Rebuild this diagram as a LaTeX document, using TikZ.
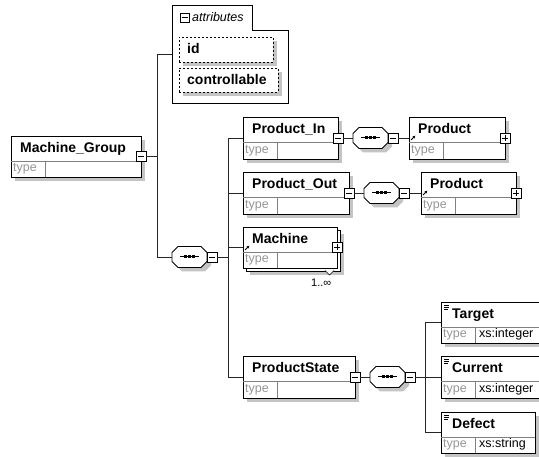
\documentclass[tikz,border=0pt]{standalone}
\usepackage{fontspec}
\setmainfont{Liberation Sans}
\usetikzlibrary{fit,arrows.meta}
\definecolor{shd}{RGB}{196,196,196}
\definecolor{typegray}{RGB}{150,150,150}
\definecolor{divgray}{RGB}{128,128,128}
\tikzset{
  shadowfill/.style={fill=shd, draw=none},
  boxn/.style={draw=black, fill=white, line width=0.9pt, inner sep=0pt},
  divl/.style={draw=divgray, line width=0.7pt},
  ttl/.style={font=\fontsize{14}{16}\selectfont\bfseries, inner sep=0pt},
  typ/.style={font=\fontsize{12.5}{14}\selectfont, text=typegray, inner sep=0pt},
  typv/.style={font=\fontsize{12.5}{14}\selectfont, inner sep=0pt},
  conn/.style={draw=black!85, line width=0.9pt},
  pmbox/.style={draw=black, fill=white, line width=0.7pt, minimum size=10pt, inner sep=0pt},
  dashbox/.style={draw=black, fill=white, line width=0.8pt, dash pattern=on 2pt off 2pt, inner sep=0pt},
}
% shadow rectangle
\newcommand\boxshadow[4]{\fill[shadowfill] (#1+4,#2+4) rectangle (#3+4,#4+4);}
% element box: name, x1, y1, x2, y2, title, type value
\newcommand\elembox[7]{%
  \node[boxn, fit={(#2,#3)(#4,#5)}] (#1) {};
  \draw[divl] (#2,#3+25) -- (#4,#3+25);
  \draw[divl] (#2+34,#3+25) -- (#2+34,#5);
  \node[ttl, anchor=base west] (#1-t) at (#2+9,#3+17) {#6};
  \node[typ, anchor=base west] (#1-ty) at (#2+2,#5-5) {type};
  \node[typv, anchor=base west] (#1-tv) at (#2+38,#5-5) {#7};
}
\newcommand\minusbox[3]{%
  \node[pmbox] (#1) at (#2,#3) {};
  \draw[line width=0.7pt] (#2-3,#3) -- (#2+3,#3);
}
\newcommand\plusbox[3]{%
  \node[pmbox] (#1) at (#2,#3) {};
  \draw[line width=0.7pt] (#2-3,#3) -- (#2+3,#3) (#2,#3-3) -- (#2,#3+3);
}
% sequence compositor: name, x1, cy
\newcommand\seqbox[3]{%
  \fill[shadowfill] (#2+10,#3-6.5) -- (#2+33,#3-6.5) -- (#2+39,#3-0.5) -- (#2+39,#3+8.5)
     -- (#2+33,#3+14.5) -- (#2+10,#3+14.5) -- (#2+4,#3+8.5) -- (#2+4,#3-0.5) -- cycle;
  \draw[boxn] (#2+6,#3-10.5) -- (#2+29,#3-10.5) -- (#2+35,#3-4.5) -- (#2+35,#3+4.5)
     -- (#2+29,#3+10.5) -- (#2+6,#3+10.5) -- (#2,#3+4.5) -- (#2,#3-4.5) -- cycle;
  \node[inner sep=0pt, minimum width=35pt, minimum height=21pt] (#1) at (#2+17.5,#3) {};
  \draw[line width=1pt] (#2+8,#3) -- (#2+27,#3);
  \fill (#2+12.3,#3-1.5) rectangle (#2+14.7,#3+1.5);
  \fill (#2+16.3,#3-1.5) rectangle (#2+18.7,#3+1.5);
  \fill (#2+20.3,#3-1.5) rectangle (#2+22.7,#3+1.5);
  \minusbox{#1-m}{#2+40}{#3}
}
% reference arrow icon at a box's top-left
\newcommand\refarrow[2]{%
  \draw[line width=0.8pt, -{Latex[length=3pt,width=3pt]}] (#1+2,#2+23) -- (#1+6.5,#2+18.5);
}
% element icon (three lines) at a box's top-left
\newcommand\elicon[2]{%
  \draw[line width=0.6pt] (#1+3,#2+3) -- (#1+8,#2+3) (#1+3,#2+5) -- (#1+8,#2+5) (#1+3,#2+7) -- (#1+7,#2+7);
}
% attribute box: name, x1, y1, x2, y2, text
\newcommand\attrbox[6]{%
  \boxshadow{#2}{#3}{#4}{#5}
  \node[dashbox, fit={(#2,#3)(#4,#5)}] (#1) {};
  \node[ttl, anchor=base west] (#1-t) at (#2+8,#3+17) {#6};
}
\begin{document}
\begin{tikzpicture}[x=1pt,y=-1pt]
\useasboundingbox (0,0) rectangle (539,457);

% ---------- Machine_Group ----------
\boxshadow{11}{136}{141}{177}
\elembox{mg}{11}{136}{141}{177}{Machine\_Group}{}
\minusbox{mg-m}{141}{156.5}

% ---------- attributes ----------
\draw[line width=0.9pt, fill=white] (172,5) -- (252,5) -- (252,30) -- (288,30) -- (288,103) -- (172,103) -- cycle;
\node[inner sep=0pt, fit={(172,5)(288,103)}] (attr) {};
\node[pmbox, minimum size=9pt, line width=0.6pt] (attr-m) at (184.5,17.5) {};
\draw[line width=0.6pt] (181.5,17.5) -- (187.5,17.5);
\node[font=\fontsize{12.5}{14}\selectfont\itshape, anchor=base west, inner sep=0pt] (attr-t) at (192,22) {attributes};
\attrbox{aid}{179}{37}{273}{62}{id}
\attrbox{actl}{179}{68}{278}{92}{controllable}

% ---------- main sequence ----------
\seqbox{s1}{172}{257}

% ---------- Product_In ----------
\boxshadow{243}{117}{338}{159}
\elembox{pin}{243}{117}{338}{159}{Product\_In}{}
\minusbox{pin-m}{338}{138}
\seqbox{s2}{353}{138}
\boxshadow{409}{117}{505}{159}
\elembox{prod1}{409}{117}{505}{159}{Product}{}
\refarrow{409}{117}
\plusbox{prod1-p}{505}{138}

% ---------- Product_Out ----------
\boxshadow{243}{172}{349}{214}
\elembox{pout}{243}{172}{349}{214}{Product\_Out}{}
\minusbox{pout-m}{349}{193}
\seqbox{s3}{364}{193}
\boxshadow{421}{172}{516}{214}
\elembox{prod2}{421}{172}{516}{214}{Product}{}
\refarrow{421}{172}
\plusbox{prod2-p}{516}{193}

% ---------- Machine (1..inf) ----------
\boxshadow{246}{230}{340}{271}
\node[boxn, fit={(246,230)(340,271)}] (mach-back) {};
\elembox{mach}{243}{227}{337}{268}{Machine}{}
\refarrow{243}{227}
\plusbox{mach-p}{337}{247.5}
\draw[line width=0.7pt, fill=white] (325,270.5) -- (329.5,275) -- (334,270.5);
\node[font=\fontsize{11}{12}\selectfont, anchor=base west, inner sep=0pt] (mult) at (311,287) {1..∞};

% ---------- ProductState ----------
\boxshadow{243}{356}{355}{398}
\elembox{pst}{243}{356}{355}{398}{ProductState}{}
\minusbox{pst-m}{355}{377}
\seqbox{s4}{370}{377}

\boxshadow{441}{302}{570}{343}
\elembox{tgt}{441}{302}{570}{343}{\hspace*{2pt}Target}{xs:integer}
\elicon{441}{302}
\boxshadow{441}{356}{570}{398}
\elembox{cur}{441}{356}{570}{398}{\hspace*{2pt}Current}{xs:integer}
\elicon{441}{356}
\boxshadow{441}{412}{535}{453}
\elembox{dft}{441}{412}{535}{453}{\hspace*{2pt}Defect}{xs:string}
\elicon{441}{412}

% ---------- connectors ----------
\coordinate (ja) at (157,156.5);
\coordinate (jb) at (228,257);
\coordinate (jc) at (425,377);
\draw[conn] (mg-m.east) -- (ja);
\draw[conn] (attr.west) -| (ja);
\draw[conn] (ja) |- (s1.west);
\draw[conn] (s1-m.east) -- (jb);
\draw[conn] (pin.west) -| (jb);
\draw[conn] (pst.west) -| (jb);
\draw[conn] (pout.west) -- (pout.west -| jb);
\draw[conn] (mach.west) -- (mach.west -| jb);
\draw[conn] (pin-m.east) -- (s2.west);
\draw[conn] (s2-m.east) -- (prod1.west);
\draw[conn] (pout-m.east) -- (s3.west);
\draw[conn] (s3-m.east) -- (prod2.west);
\draw[conn] (pst-m.east) -- (s4.west);
\draw[conn] (s4-m.east) -- (jc);
\draw[conn] (tgt.west) -| (jc);
\draw[conn] (cur.west) -- (jc);
\draw[conn] (dft.west) -| (jc);
\end{tikzpicture}
\end{document}
